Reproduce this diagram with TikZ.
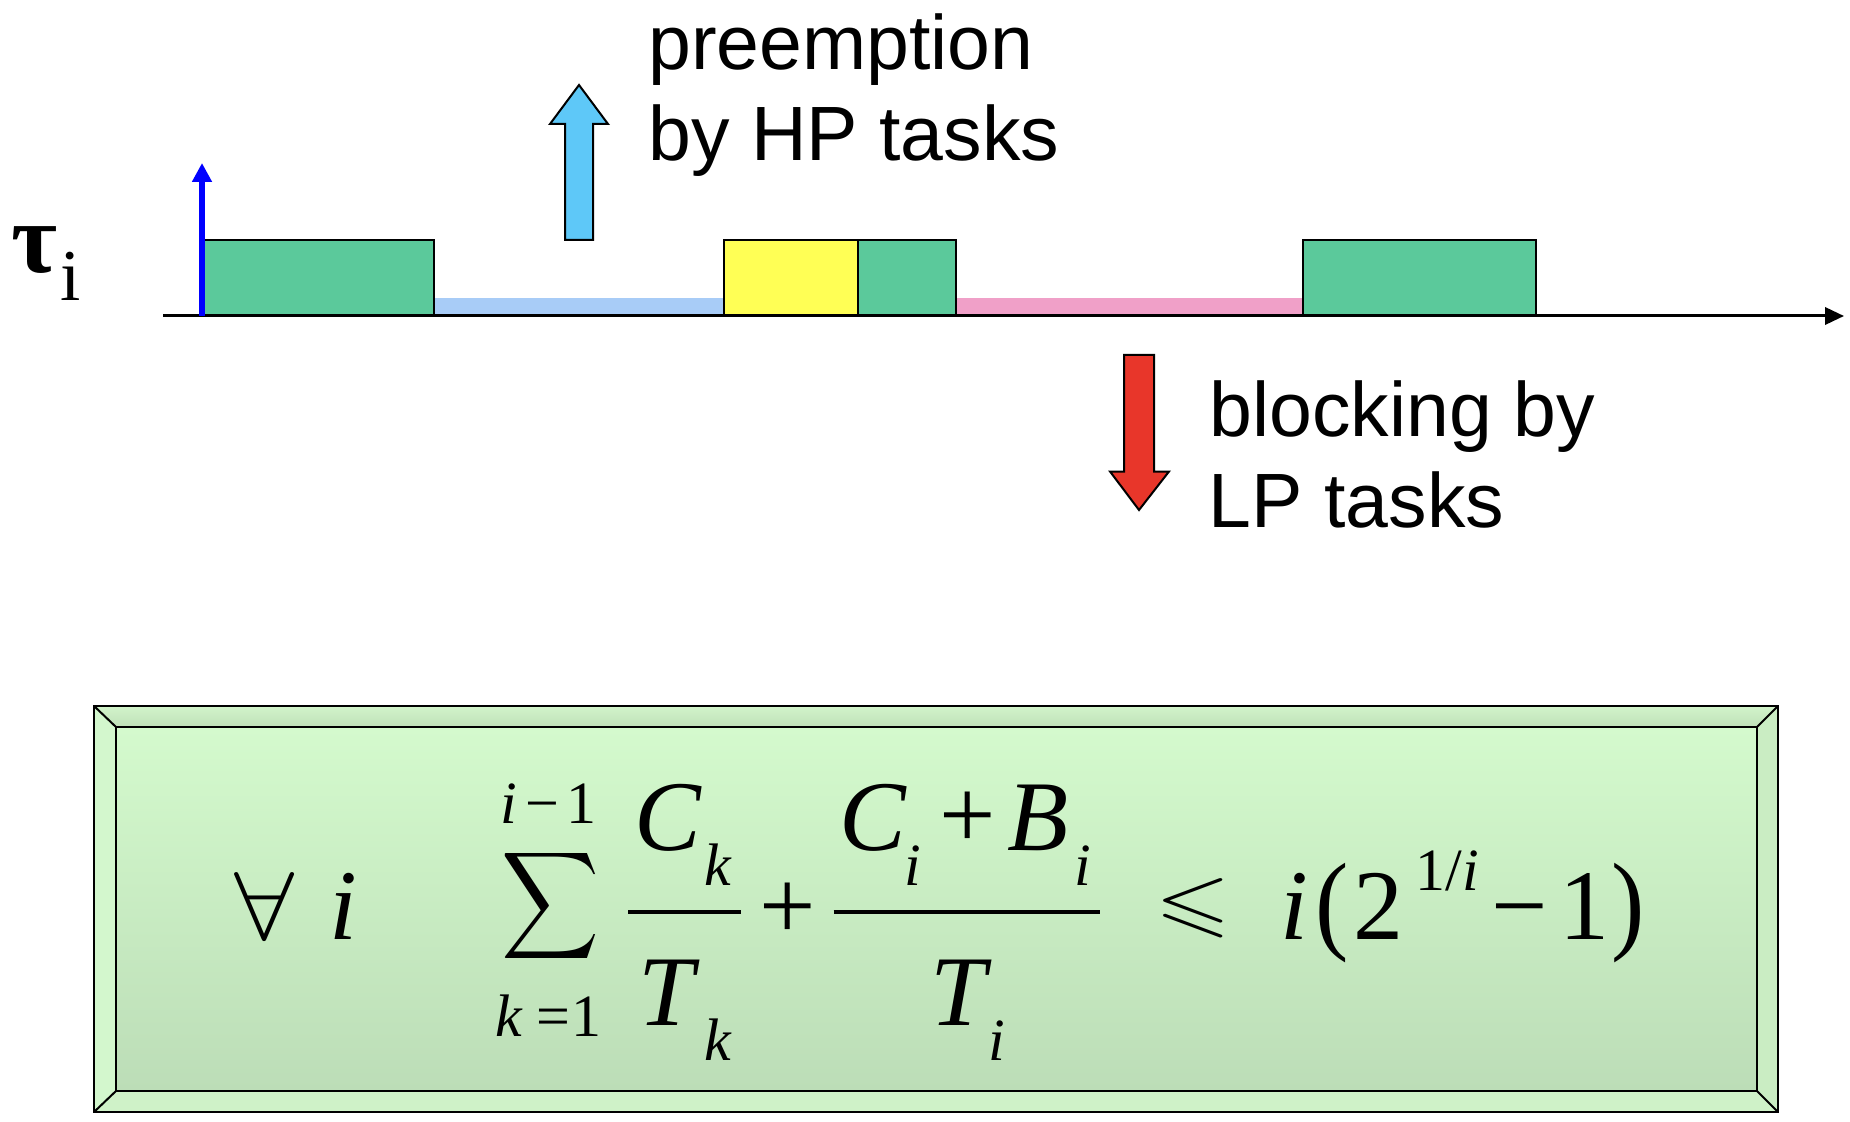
\documentclass[tikz,border=0pt]{standalone}
\usepackage{fontspec}
\usepackage{amssymb}
\usepackage{graphicx}
\setmainfont{Liberation Serif}
\newfontfamily\lsans{Liberation Sans}
\usetikzlibrary{arrows.meta}
\definecolor{taskgreen}{HTML}{5BC99B}
\definecolor{hpblue}{HTML}{A8CCF7}
\definecolor{lppink}{HTML}{F0A0C8}
\definecolor{csyellow}{HTML}{FFFF55}
\definecolor{uparrow}{HTML}{5EC8F8}
\definecolor{downarrow}{HTML}{E8362A}
\definecolor{facetop}{HTML}{D4FACD}
\definecolor{facebot}{HTML}{BCDDB7}
\definecolor{bevtop}{HTML}{D2F4CA}
\definecolor{bevtopb}{HTML}{BFE0B9}
\definecolor{bevleft}{HTML}{D3F7CD}
\definecolor{bevbot}{HTML}{CFF2C8}
\definecolor{bevright}{HTML}{CAEDC3}
\begin{document}
\begin{tikzpicture}[x=0.5pt,y=-0.5pt,
  lbl/.style={font=\lsans\fontsize{38.5}{46}\selectfont, anchor=base west, inner sep=0pt},
  taskbox/.style={draw=black, line width=1pt},
  mi/.style={font=\fontsize{50}{60}\selectfont\itshape, anchor=base, inner sep=0pt},
  mr/.style={font=\fontsize{50}{60}\selectfont, anchor=base, inner sep=0pt},
  si/.style={font=\fontsize{30}{36}\selectfont\itshape, anchor=base, inner sep=0pt},
  sr/.style={font=\fontsize{30}{36}\selectfont, anchor=base, inner sep=0pt},
  fracbar/.style={line width=2pt},
  bevelline/.style={line width=1pt, line join=miter}]
\useasboundingbox (0,0) rectangle (1850,1122);

% ---------- timeline ----------
\fill[hpblue] (434,298) rectangle (724,316);
\fill[lppink] (956,298) rectangle (1303,316);
\filldraw[taskbox, fill=taskgreen] (202,240) rectangle (434,316);
\filldraw[taskbox, fill=csyellow] (724,240) rectangle (858,316);
\filldraw[taskbox, fill=taskgreen] (858,240) rectangle (956,316);
\filldraw[taskbox, fill=taskgreen] (1303,240) rectangle (1536,316);

\coordinate (ax0) at (163,316);
\coordinate (ax1) at (1844,316);
\draw[line width=1.5pt, -{Triangle[length=9.5pt,width=8.6pt]}] (ax0) -- (ax1);

\coordinate (rel0) at (202,316);
\coordinate (rel1) at (202,163);
\draw[blue, line width=3pt, -{Triangle[length=9.5pt,width=9.5pt]}] (rel0) -- (rel1);

\node[font=\fontsize{50}{60}\selectfont\bfseries, anchor=base, inner sep=0pt] (tau) at (34.5,273) {τ};
\node[font=\fontsize{36.5}{44}\selectfont, anchor=base, inner sep=0pt] (taui) at (71,301) {i};

% preemption arrow
\filldraw[fill=uparrow, draw=black, line width=1pt, line join=miter]
  (565,240) -- (565,124) -- (550,124) -- (579,85) -- (608,124) -- (593,124) -- (593,240) -- cycle;
% blocking arrow
\filldraw[fill=downarrow, draw=black, line width=1pt, line join=miter]
  (1124,355) -- (1154,355) -- (1154,471.5) -- (1169,471.5) -- (1139,510) -- (1110,471.5) -- (1124,471.5) -- cycle;

\node[lbl] (pre1) at (648,70) {preemption};
\node[lbl] (pre2) at (648,161) {by HP tasks};
\node[lbl] (blk1) at (1209,436.5) {blocking by};
\node[lbl] (blk2) at (1208.5,527.5) {LP tasks};

% ---------- formula box ----------
\shade[top color=facetop, bottom color=facebot] (116,727) rectangle (1757,1091);
\shade[top color=bevtop, bottom color=bevtopb] (94,706) -- (1778,706) -- (1757,727) -- (116,727) -- cycle;
\fill[bevleft] (94,706) -- (116,727) -- (116,1091) -- (94,1112) -- cycle;
\fill[bevbot] (94,1112) -- (116,1091) -- (1757,1091) -- (1778,1112) -- cycle;
\fill[bevright] (1778,706) -- (1778,1112) -- (1757,1091) -- (1757,727) -- cycle;
\draw[bevelline] (94,706) rectangle (1778,1112);
\draw[bevelline] (116,727) rectangle (1757,1091);
\draw[bevelline] (94,706) -- (116,727);
\draw[bevelline] (1778,706) -- (1757,727);
\draw[bevelline] (94,1112) -- (116,1091);
\draw[bevelline] (1778,1112) -- (1757,1091);

% ---------- formula ----------
\node[anchor=base, inner sep=0pt] (forall) at (265,939) {\resizebox{30pt}{33.5pt}{$\forall$}};
\node[mi] (fi) at (343.5,939) {i};

\node[inner sep=0pt] (sum) at (551,906) {\resizebox*{49pt}{60pt}{$\displaystyle\sum$}};
\node[si] (upi) at (508.5,823) {i};
\node[sr] (upm) at (542,823) {−};
\node[sr] (up1) at (581.5,823) {1};
\node[si] (lok) at (509,1036.7) {k};
\node[sr] (loeq) at (553.5,1036.7) {=};
\node[sr] (lo1) at (586,1036.7) {1};

\node[mi] (c1) at (668,850) {C};
\node[si] (c1k) at (718,885) {k};
\draw[fracbar] (628,911.7) -- (741,911.7);
\node[mi] (t1) at (666,1025) {T};
\node[si] (t1k) at (718,1060) {k};

\node[mr] (plus1) at (787.3,939) {+};

\node[mi] (c2) at (873,850) {C};
\node[si] (c2i) at (913,885) {i};
\node[mr] (plus2) at (968,848) {+};
\node[mi] (b2) at (1038,850) {B};
\node[si] (b2i) at (1082.5,885) {i};
\draw[fracbar] (833.5,911.7) -- (1099.5,911.7);
\node[mi] (t2) at (958,1025) {T};
\node[si] (t2i) at (997,1060) {i};

\node[inner sep=0pt, font=\fontsize{50}{60}\selectfont] (leq) at (1193.5,908.5) {\scalebox{0.97}[0.77]{$\leqslant$}};
\node[mi] (ri) at (1294,939) {i};
\node[mr] (lp) at (1332,939) {\scalebox{1}[1.1]{(}};
\node[mr] (two) at (1378,939) {2};
\node[sr] (exp) at (1447,890) {1/{\itshape i}};
\node[mr] (minus) at (1520,939) {−};
\node[mr] (one) at (1584.5,939) {1};
\node[mr] (rp) at (1628.5,939) {\scalebox{1}[1.1]{)}};
\end{tikzpicture}
\end{document}
